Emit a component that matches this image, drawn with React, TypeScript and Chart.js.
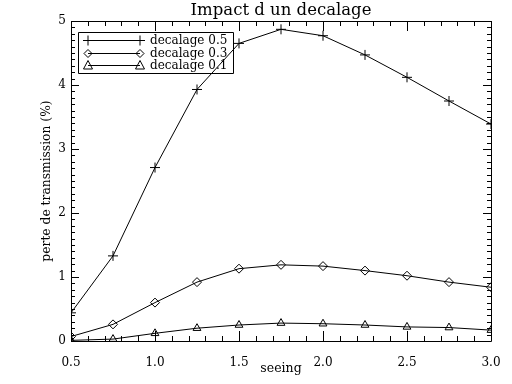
import { useEffect, useRef } from "react";
import { Chart, registerables } from "chart.js";

Chart.register(...registerables);

const seeing = [0.5, 0.75, 1.0, 1.25, 1.5, 1.75, 2.0, 2.25, 2.5, 2.75, 3.0];
const decalage05 = [0.44, 1.33, 2.71, 3.93, 4.65, 4.87, 4.77, 4.47, 4.12, 3.75, 3.39];
const decalage03 = [0.07, 0.26, 0.6, 0.92, 1.13, 1.19, 1.17, 1.1, 1.02, 0.92, 0.84];
const decalage01 = [0.01, 0.03, 0.12, 0.2, 0.25, 0.28, 0.27, 0.25, 0.22, 0.21, 0.17];
const seriesLabels = ["decalage 0.5", "decalage 0.3", "decalage 0.1"];
const seriesStyles = ["cross", "rectRot", "triangle"];
const titleText = "Impact d un decalage";
const xTitle = "seeing";
const yTitle = "perte de transmission (%)";

const FONT = "'DejaVu Serif', serif";

function drawSymbol(ctx: CanvasRenderingContext2D, style: string, x: number, y: number) {
  ctx.beginPath();
  if (style === "cross") {
    ctx.moveTo(x - 5, y);
    ctx.lineTo(x + 5, y);
    ctx.moveTo(x, y - 5);
    ctx.lineTo(x, y + 5);
  } else if (style === "rectRot") {
    ctx.moveTo(x - 4, y);
    ctx.lineTo(x, y - 4);
    ctx.lineTo(x + 4, y);
    ctx.lineTo(x, y + 4);
    ctx.closePath();
  } else {
    ctx.moveTo(x - 4.5, y + 3.5);
    ctx.lineTo(x + 4.5, y + 3.5);
    ctx.lineTo(x, y - 5);
    ctx.closePath();
  }
  ctx.stroke();
}

const framePlugin = {
  id: "idlFrame",
  afterDraw(chart: any) {
    const { ctx, chartArea } = chart;
    const { left, right, top, bottom } = chartArea;
    const xs = chart.scales.x;
    const ys = chart.scales.y;
    ctx.save();
    ctx.strokeStyle = "#000";
    ctx.lineWidth = 1;
    ctx.beginPath();
    ctx.rect(Math.round(left) + 0.5, Math.round(top) + 0.5, Math.round(right - left), Math.round(bottom - top));
    ctx.stroke();
    ctx.beginPath();
    const nx = Math.round((xs.max - xs.min) / 0.1);
    for (let i = 0; i <= nx; i++) {
      const v = xs.min + i * 0.1;
      const px = Math.round(xs.getPixelForValue(v)) + 0.5;
      const len = i % 5 === 0 ? 10 : 5;
      ctx.moveTo(px, bottom);
      ctx.lineTo(px, bottom - len);
      ctx.moveTo(px, top);
      ctx.lineTo(px, top + len);
    }
    const ny = Math.round((ys.max - ys.min) / 0.1);
    for (let i = 0; i <= ny; i++) {
      const v = ys.min + i * 0.1;
      const py = Math.round(ys.getPixelForValue(v)) + 0.5;
      const len = i % 10 === 0 ? 8 : 4;
      ctx.moveTo(left, py);
      ctx.lineTo(left + len, py);
      ctx.moveTo(right, py);
      ctx.lineTo(right - len, py);
    }
    ctx.stroke();

    // legend
    const lx = left + 7;
    const ly = top + 11;
    const lw = 155;
    const lh = 41;
    ctx.beginPath();
    ctx.rect(Math.round(lx) + 0.5, Math.round(ly) + 0.5, lw, lh);
    ctx.stroke();
    ctx.font = "12px " + FONT;
    ctx.fillStyle = "#000";
    ctx.textBaseline = "middle";
    ctx.textAlign = "left";
    chart.data.datasets.forEach((ds: any, i: number) => {
      const yy = Math.round(ly + 8 + i * 12.5) + 0.5;
      const x0 = lx + 10;
      const x1 = lx + 62;
      ctx.beginPath();
      ctx.moveTo(x0, yy);
      ctx.lineTo(x1, yy);
      ctx.stroke();
      drawSymbol(ctx, seriesStyles[i], x0, yy);
      drawSymbol(ctx, seriesStyles[i], x1, yy);
      ctx.fillText(ds.label, lx + 72, yy + 0.5);
    });
    ctx.restore();
  },
};

export default function App() {
  const ref = useRef<HTMLCanvasElement | null>(null);
  useEffect(() => {
    document.body.style.margin = "0";
    const canvas = ref.current;
    if (!canvas) return;
    const series = [decalage05, decalage03, decalage01];
    const chart = new Chart(canvas, {
      type: "line",
      data: {
        datasets: series.map((vals, i) => ({
          label: seriesLabels[i],
          data: seeing.map((s, j) => ({ x: s, y: vals[j] })),
          borderColor: "#000",
          borderWidth: 1,
          backgroundColor: "rgba(0,0,0,0)",
          pointStyle: seriesStyles[i] as any,
          pointRadius: i === 0 ? 5 : 4.5,
          pointBorderWidth: 1,
          pointBorderColor: "#000",
          pointBackgroundColor: "rgba(0,0,0,0)",
          tension: 0,
          fill: false,
        })),
      },
      options: {
        responsive: false,
        animation: false,
        layout: { padding: { left: 0, right: 21, top: 0, bottom: 0 } },
        plugins: {
          legend: { display: false },
          tooltip: { enabled: false },
          title: {
            display: true,
            text: titleText,
            fullSize: false,
            color: "#000",
            font: { family: FONT, size: 16.5, weight: "normal", lineHeight: 1.2 },
            padding: { top: 1.2, bottom: 0 },
          },
        },
        scales: {
          x: {
            type: "linear",
            min: 0.5,
            max: 3.0,
            afterFit: (s: any) => {
              s.height = 43;
            },
            grid: { display: false, drawTicks: true, tickLength: 7 },
            border: { display: false },
            ticks: {
              stepSize: 0.5,
              color: "#000",
              padding: 8,
              maxRotation: 0,
              font: { family: FONT, size: 12 },
              callback: (v: any) => Number(v).toFixed(1),
            },
            title: {
              display: true,
              text: xTitle,
              color: "#000",
              font: { family: FONT, size: 12.5 },
              padding: { top: 0, bottom: 8 },
            },
          },
          y: {
            type: "linear",
            min: 0,
            max: 5,
            afterFit: (s: any) => {
              s.width = 71;
            },
            grid: { display: false, drawTicks: false },
            border: { display: false },
            ticks: {
              stepSize: 1,
              color: "#000",
              padding: 5,
              font: { family: FONT, size: 12 },
            },
            title: {
              display: true,
              text: yTitle,
              color: "#000",
              font: { family: FONT, size: 12.3 },
              padding: { top: 39, bottom: 0 },
            },
          },
        },
      },
      plugins: [framePlugin],
    });
    return () => chart.destroy();
  }, []);
  return <canvas ref={ref} width={512} height={384} style={{ display: "block" }} />;
}
